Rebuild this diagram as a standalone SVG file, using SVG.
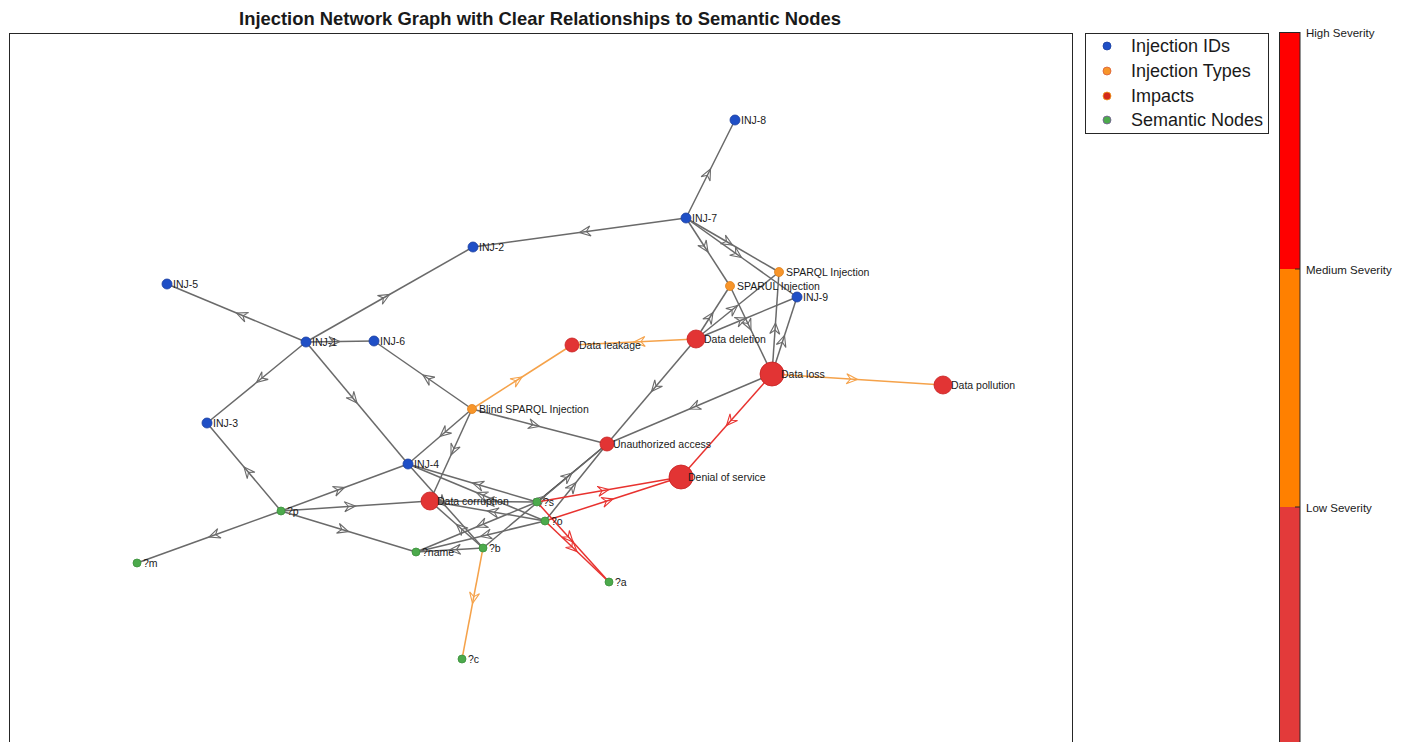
<svg xmlns="http://www.w3.org/2000/svg" width="1408" height="742" viewBox="0 0 1408 742">
  <style>
    text { font-family: "Liberation Sans", Arial, sans-serif; fill: #1a1a1a; }
    .title { font-size: 18.4px; font-weight: bold; text-anchor: middle; }
    .lbl { font-size: 10.5px; }
    .leg { font-size: 18px; }
    .cb { font-size: 11.5px; }
    .e { fill: none; stroke-width: 1.5; }
    .g { stroke: #6a6a6a; marker-mid: url(#ah-g); }
    .gd { stroke: #2c2c2c; marker-mid: url(#ah-g); }
    .o { stroke: #f5a24a; marker-mid: url(#ah-o); }
    .r { stroke: #e8322f; marker-mid: url(#ah-r); }
    .id { fill: #1f4fc6; stroke: #1a3fa0; stroke-width: 0.8; }
    .ty { fill: #f7952a; stroke: #e0801a; stroke-width: 0.8; }
    .im { fill: #e23434; stroke: #c82020; stroke-width: 0.8; }
    .se { fill: #4caa4c; stroke: #3c903c; stroke-width: 0.8; }
  </style>
  <defs>
    <marker id="ah-g" markerUnits="userSpaceOnUse" markerWidth="16" markerHeight="14" refX="0" refY="0" viewBox="-13 -7 16 14" orient="auto">
      <path d="M-11,-5 L0,0 L-11,5 L-7,0 Z" fill="none" stroke="#6a6a6a" stroke-width="1.1"/>
    </marker>
    <marker id="ah-o" markerUnits="userSpaceOnUse" markerWidth="16" markerHeight="14" refX="0" refY="0" viewBox="-13 -7 16 14" orient="auto">
      <path d="M-11,-5 L0,0 L-11,5 L-7,0 Z" fill="none" stroke="#f5a24a" stroke-width="1.1"/>
    </marker>
    <marker id="ah-r" markerUnits="userSpaceOnUse" markerWidth="16" markerHeight="14" refX="0" refY="0" viewBox="-13 -7 16 14" orient="auto">
      <path d="M-11,-5 L0,0 L-11,5 L-7,0 Z" fill="none" stroke="#e8322f" stroke-width="1.1"/>
    </marker>
  </defs>

  <rect width="1408" height="742" fill="#ffffff"/>

  <text class="title" x="540" y="25">Injection Network Graph with Clear Relationships to Semantic Nodes</text>

  <!-- plot area frame -->
  <rect x="9.5" y="33.5" width="1063" height="720" fill="none" stroke="#262626" stroke-width="1"/>

  <!-- connectors -->
  <g id="edges">
    <path class="e g" d="M686,218 L710.5,169 L735,120"/>
    <path class="e g" d="M686,218 L579.5,232.5 L473,247"/>
    <path class="e g" d="M306,342 L389.5,294.5 L473,247"/>
    <path class="e g" d="M306,342 L236.5,313 L167,284"/>
    <path class="e g" d="M306,342 L256.5,382.5 L207,423"/>
    <path class="e g" d="M306,342 L357,403 L408,464"/>
    <path class="e g" d="M306,342 L340,341.5 L374,341"/>
    <path class="e g" d="M472,409 L423,375 L374,341"/>
    <path class="e g" d="M472,409 L539.5,426.5 L607,444"/>
    <path class="e g" d="M472,409 L440,436.5 L408,464"/>
    <path class="e g" d="M472,409 L451,455 L430,501"/>
    <path class="e g" d="M281,511 L244,467 L207,423"/>
    <path class="e g" d="M281,511 L209,537 L137,563"/>
    <path class="e g" d="M281,511 L344.5,487.5 L408,464"/>
    <path class="e g" d="M281,511 L355.5,506 L430,501"/>
    <path class="e g" d="M281,511 L348.5,531.5 L416,552"/>
    <path class="e g" d="M772,374 L689.5,409 L607,444"/>
    <path class="e g" d="M696,339 L651.5,391.5 L607,444"/>
    <path class="e g" d="M686,218 L732.5,245 L779,272"/>
    <path class="e g" d="M686,218 L741.5,257.5 L797,297"/>
    <path class="e g" d="M686,218 L708,252 L730,286"/>
    <path class="e g" d="M730,286 L751,330 L772,374"/>
    <path class="e g" d="M772,374 L775.5,323 L779,272"/>
    <path class="e g" d="M772,374 L784.5,335.5 L797,297"/>
    <path class="e g" d="M696,339 L713,312.5 L730,286"/>
    <path class="e g" d="M696,339 L737.5,305.5 L779,272"/>
    <path class="e g" d="M696,339 L746.5,318 L797,297"/>
    <path class="e g" d="M537,502 L472.5,483 L408,464"/>
    <path class="e g" d="M545,521 L476.5,492.5 L408,464"/>
    <path class="e g" d="M537,502 L483.5,501.5 L430,501"/>
    <path class="e g" d="M545,521 L487.5,511 L430,501"/>
    <path class="e g" d="M537,502 L476.5,527 L416,552"/>
    <path class="e g" d="M545,521 L480.5,536.5 L416,552"/>
    <path class="e g" d="M483,548 L449.5,550 L416,552"/>
    <path class="e g" d="M483,548 L456.5,524.5 L430,501"/>
    <path class="e g" d="M408,464 L445.5,506 L483,548"/>
    <path class="e gd" d="M537,502 L572,473 L607,444"/>
    <path class="e g" d="M545,521 L576,482.5 L607,444"/>
    <path class="e g" d="M483,548 L545,496 L607,444"/>
    <path class="e o" d="M472,409 L522,377 L572,345"/>
    <path class="e o" d="M696,339 L634,342 L572,345"/>
    <path class="e o" d="M772,374 L857.5,379.5 L943,385"/>
    <path class="e o" d="M483,548 L472.5,603.5 L462,659"/>
    <path class="e r" d="M772,374 L726.5,425.5 L681,477"/>
    <path class="e r" d="M537,502 L609,489.5 L681,477"/>
    <path class="e r" d="M545,521 L613,499 L681,477"/>
    <path class="e r" d="M537,502 L573,542 L609,582"/>
    <path class="e r" d="M545,521 L577,551.5 L609,582"/>
  </g>

  <!-- nodes -->
  <g id="n-inj8"><circle class="id" cx="735" cy="120" r="5"/><text class="lbl" x="741" y="124">INJ-8</text></g>
  <g id="n-inj7"><circle class="id" cx="686" cy="218" r="5"/><text class="lbl" x="692" y="222">INJ-7</text></g>
  <g id="n-inj2"><circle class="id" cx="473" cy="247" r="5"/><text class="lbl" x="479" y="251">INJ-2</text></g>
  <g id="n-inj5"><circle class="id" cx="167" cy="284" r="5"/><text class="lbl" x="173" y="288">INJ-5</text></g>
  <g id="n-sparql"><circle class="ty" cx="779" cy="272" r="4.5"/><text class="lbl" x="786" y="276">SPARQL Injection</text></g>
  <g id="n-sparul"><circle class="ty" cx="730" cy="286" r="4.5"/><text class="lbl" x="737" y="290">SPARUL Injection</text></g>
  <g id="n-inj9"><circle class="id" cx="797" cy="297" r="5"/><text class="lbl" x="803" y="301">INJ-9</text></g>
  <g id="n-inj1"><circle class="id" cx="306" cy="342" r="5"/><text class="lbl" x="312" y="346">INJ-1</text></g>
  <g id="n-inj6"><circle class="id" cx="374" cy="341" r="5"/><text class="lbl" x="380" y="345">INJ-6</text></g>
  <g id="n-leakage"><circle class="im" cx="572" cy="345" r="7"/><text class="lbl" x="579" y="349">Data leakage</text></g>
  <g id="n-deletion"><circle class="im" cx="696" cy="339" r="9"/><text class="lbl" x="704" y="343">Data deletion</text></g>
  <g id="n-loss"><circle class="im" cx="772" cy="374" r="12"/><text class="lbl" x="781" y="378">Data loss</text></g>
  <g id="n-pollution"><circle class="im" cx="943" cy="385" r="9"/><text class="lbl" x="951" y="389">Data pollution</text></g>
  <g id="n-blind"><circle class="ty" cx="472" cy="409" r="4.5"/><text class="lbl" x="479" y="413">Blind SPARQL Injection</text></g>
  <g id="n-inj3"><circle class="id" cx="207" cy="423" r="5"/><text class="lbl" x="213" y="427">INJ-3</text></g>
  <g id="n-unauth"><circle class="im" cx="607" cy="444" r="7"/><text class="lbl" x="613" y="448">Unauthorized access</text></g>
  <g id="n-inj4"><circle class="id" cx="408" cy="464" r="5"/><text class="lbl" x="414" y="468">INJ-4</text></g>
  <g id="n-dos"><circle class="im" cx="681" cy="477" r="12"/><text class="lbl" x="688" y="481">Denial of service</text></g>
  <g id="n-corruption"><circle class="im" cx="430" cy="501" r="9"/><text class="lbl" x="437" y="505">Data corruption</text></g>
  <g id="n-s"><circle class="se" cx="537" cy="502" r="4"/><text class="lbl" x="543" y="506">?s</text></g>
  <g id="n-p"><circle class="se" cx="281" cy="511" r="4"/><text class="lbl" x="287" y="515">?p</text></g>
  <g id="n-o"><circle class="se" cx="545" cy="521" r="4"/><text class="lbl" x="551" y="525">?o</text></g>
  <g id="n-b"><circle class="se" cx="483" cy="548" r="4"/><text class="lbl" x="489" y="552">?b</text></g>
  <g id="n-name"><circle class="se" cx="416" cy="552" r="4"/><text class="lbl" x="422" y="556">?name</text></g>
  <g id="n-m"><circle class="se" cx="137" cy="563" r="4"/><text class="lbl" x="143" y="567">?m</text></g>
  <g id="n-a"><circle class="se" cx="609" cy="582" r="4"/><text class="lbl" x="615" y="586">?a</text></g>
  <g id="n-c"><circle class="se" cx="462" cy="659" r="4"/><text class="lbl" x="468" y="663">?c</text></g>

  <!-- legend -->
  <g id="legend">
    <rect x="1085.5" y="33.5" width="183" height="100" fill="#ffffff" stroke="#262626" stroke-width="1"/>
    <circle cx="1107" cy="46" r="4" fill="#1f4fc6" stroke="#1a3fa0" stroke-width="0.8"/>
    <text class="leg" x="1131" y="52">Injection IDs</text>
    <circle cx="1107" cy="71" r="4" fill="#f7952a" stroke="#d9603a" stroke-width="0.8"/>
    <text class="leg" x="1131" y="77">Injection Types</text>
    <circle cx="1107" cy="96" r="4" fill="#d42a1a" stroke="#f0a020" stroke-width="0.8"/>
    <text class="leg" x="1131" y="102">Impacts</text>
    <circle cx="1107" cy="120" r="4" fill="#4caa4c" stroke="#7a5a9a" stroke-width="0.8"/>
    <text class="leg" x="1131" y="126">Semantic Nodes</text>
  </g>

  <!-- severity colour bar -->
  <g id="colorbar">
    <rect x="1279" y="32" width="21" height="237" fill="#ff0000"/>
    <rect x="1279" y="269" width="21" height="238" fill="#ff8000"/>
    <rect x="1279" y="507" width="21" height="245" fill="#e33a3a"/>
    <rect x="1279.5" y="32.5" width="20.5" height="720" fill="none" stroke="#262626" stroke-width="1"/>
    <line x1="1295" y1="269" x2="1300" y2="269" stroke="#262626" stroke-width="1"/>
    <line x1="1295" y1="507" x2="1300" y2="507" stroke="#262626" stroke-width="1"/>
    <text class="cb" x="1306" y="37">High Severity</text>
    <text class="cb" x="1306" y="274">Medium Severity</text>
    <text class="cb" x="1306" y="512">Low Severity</text>
  </g>
</svg>
